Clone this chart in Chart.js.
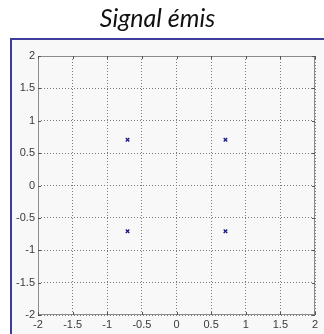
<!DOCTYPE html>
<html>
<head>
<meta charset="utf-8">
<script src="https://cdn.jsdelivr.net/npm/chart.js@4"></script>
<style>
  html, body { margin: 0; padding: 0; background: #ffffff; }
  #wrap { width: 324px; height: 334px; }
</style>
</head>
<body>
<div id="wrap"><canvas id="c" width="324" height="334"></canvas></div>
<script>
// QPSK constellation points (in-phase / quadrature)
const symbolI = [-0.707, 0.707, -0.707, 0.707];
const symbolQ = [0.707, 0.707, -0.707, -0.707];
const tickValues = [-2, -1.5, -1, -0.5, 0, 0.5, 1, 1.5, 2];
const titleText = 'Signal émis';

const points = symbolI.map((x, i) => ({ x: x, y: symbolQ[i] }));

// Figure frame, plot box and inward tick marks
const figureFrame = {
  id: 'figureFrame',
  beforeDraw(chart) {
    const ctx = chart.ctx;
    ctx.save();
    ctx.fillStyle = '#ffffff';
    ctx.fillRect(0, 0, chart.width, chart.height);
    ctx.fillStyle = '#f8f8f8';
    ctx.fillRect(11, 39, chart.width - 11, chart.height - 39);
    ctx.strokeStyle = '#3e3e9a';
    ctx.lineWidth = 2;
    ctx.beginPath();
    ctx.moveTo(11, chart.height);
    ctx.lineTo(11, 39);
    ctx.lineTo(chart.width, 39);
    ctx.stroke();
    ctx.restore();
  },
  afterDraw(chart) {
    const ctx = chart.ctx;
    const a = chart.chartArea;
    const xs = chart.scales.x, ys = chart.scales.y;
    ctx.save();
    ctx.strokeStyle = '#8c8c8c';
    ctx.lineWidth = 1;
    ctx.strokeRect(a.left + 0.5, a.top + 0.5, a.right - a.left - 1, a.bottom - a.top - 1);
    ctx.strokeStyle = '#555555';
    ctx.beginPath();
    const len = 3;
    tickValues.forEach(v => {
      const px = Math.round(xs.getPixelForValue(v)) + 0.5;
      ctx.moveTo(px, a.bottom); ctx.lineTo(px, a.bottom - len);
      ctx.moveTo(px, a.top); ctx.lineTo(px, a.top + len);
      const py = Math.round(ys.getPixelForValue(v)) + 0.5;
      ctx.moveTo(a.left, py); ctx.lineTo(a.left + len, py);
      ctx.moveTo(a.right, py); ctx.lineTo(a.right - len, py);
    });
    ctx.stroke();
    ctx.restore();
  }
};

const tickFont = { family: 'Liberation Sans', size: 11 };

new Chart(document.getElementById('c'), {
  type: 'scatter',
  data: {
    datasets: [{
      data: points,
      pointStyle: 'crossRot',
      pointRadius: 2.5,
      pointBorderWidth: 1.3,
      borderColor: '#1a1a8c',
      backgroundColor: '#1a1a8c'
    }]
  },
  options: {
    responsive: false,
    animation: false,
    devicePixelRatio: 1,
    layout: { padding: { left: 0, right: 9, top: 0, bottom: 0 } },
    plugins: {
      legend: { display: false },
      tooltip: { enabled: false },
      title: {
        display: true,
        text: titleText,
        color: '#111111',
        font: { family: 'Lato', size: 25, style: 'italic', weight: 'normal', lineHeight: 1.2 },
        padding: { top: 4, bottom: 22 }
      }
    },
    scales: {
      x: {
        type: 'linear',
        min: -2, max: 2,
        afterBuildTicks(scale) { scale.ticks = tickValues.map(v => ({ value: v })); },
        afterFit(scale) { scale.height = 19; },
        border: { display: false, dash: [1, 2] },
        grid: { color: '#7a7a7a', lineWidth: 1, drawTicks: false },
        ticks: { color: '#3a3a3a', font: tickFont, padding: 3, maxRotation: 0, autoSkip: false,
                 callback: v => String(v) }
      },
      y: {
        type: 'linear',
        min: -2, max: 2,
        afterBuildTicks(scale) { scale.ticks = tickValues.map(v => ({ value: v })); },
        afterFit(scale) { scale.width = 38; },
        border: { display: false, dash: [1, 2] },
        grid: { color: '#7a7a7a', lineWidth: 1, drawTicks: false },
        ticks: { color: '#3a3a3a', font: tickFont, padding: 3, autoSkip: false,
                 callback: v => String(v) }
      }
    }
  },
  plugins: [figureFrame]
});
</script>
</body>
</html>
